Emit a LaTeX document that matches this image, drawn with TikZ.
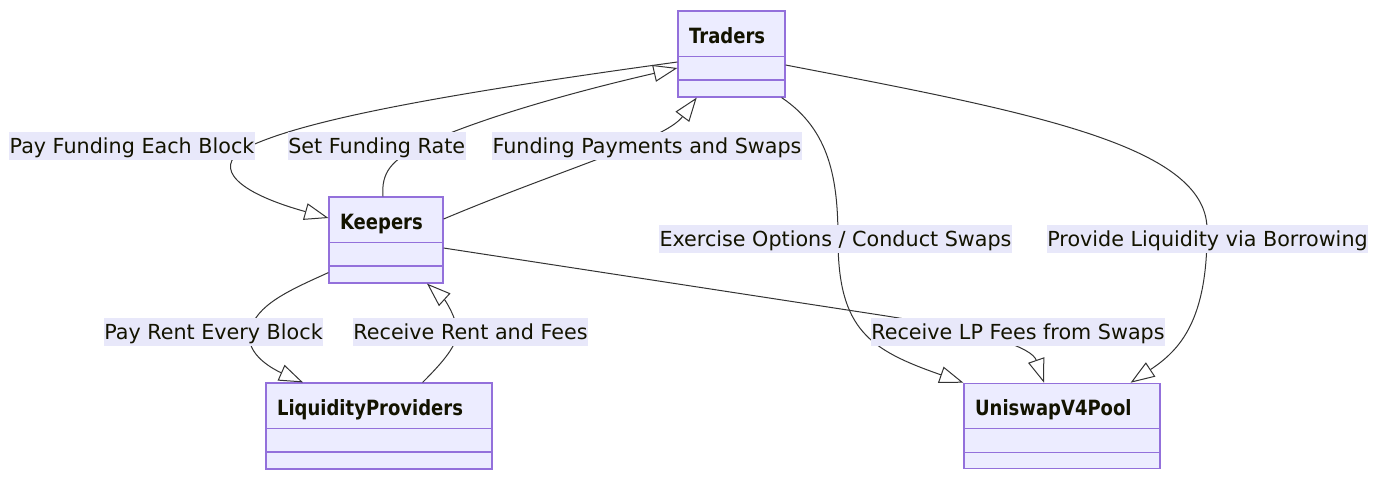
\documentclass[tikz,border=0pt]{standalone}
\usepackage{fontspec}
\setmainfont{DejaVu Sans}
\usetikzlibrary{arrows.meta}
\definecolor{boxfill}{HTML}{ECECFF}
\definecolor{boxdraw}{HTML}{9370DB}
\definecolor{edgecol}{HTML}{333333}
\definecolor{lblbg}{RGB}{232,232,250}
\definecolor{txt}{HTML}{131300}
\newcommand\mytitletext[1]{\scalebox{0.857}[1]{#1}}
\begin{document}
\begin{tikzpicture}[x=1pt,y=-1pt,
 classbox/.style={draw=boxdraw, fill=boxfill, line width=1.2pt, inner sep=0pt, rectangle},
 divider/.style={draw=boxdraw, line width=1.2pt},
 title/.style={anchor=base west, inner sep=0pt, font=\bfseries\fontsize{21}{25}\selectfont, text=txt},
 rel/.style={draw=edgecol, line width=1pt, -{Triangle[length=24pt,width=17pt,fill=white]}},
 elabel/.style={fill=lblbg, inner xsep=0.5pt, inner ysep=0pt, minimum height=27.5pt, text height=15pt, text depth=0.4pt, font=\fontsize{20.7}{24}\selectfont, text=txt}
]
\useasboundingbox[fill=white] (0,0) rectangle (1380,480);

% class boxes
\node[classbox, minimum width=107pt, minimum height=86pt] (Traders) at (731.5,54) {};
\node[classbox, minimum width=114pt, minimum height=86pt] (Keepers) at (386,240) {};
\node[classbox, minimum width=226pt, minimum height=86pt] (LP) at (379,426) {};
\node[classbox, minimum width=196pt, minimum height=85pt] (Pool) at (1062,425.8) {};
\foreach \b in {Traders,Keepers,LP,Pool}{
  \draw[divider] ([yshift=-46pt]\b.north west) -- ([yshift=-46pt]\b.north east);
  \draw[divider] ([yshift=-69.5pt]\b.north west) -- ([yshift=-69.5pt]\b.north east);
}
\node[title] (TradersT) at ([xshift=11.5pt,yshift=-32.7pt]Traders.north west) {\mytitletext{Traders}};
\node[title] (KeepersT) at ([xshift=11.5pt,yshift=-32.7pt]Keepers.north west) {\mytitletext{Keepers}};
\node[title] (LPT) at ([xshift=11.5pt,yshift=-32.7pt]LP.north west) {\mytitletext{LiquidityProviders}};
\node[title] (PoolT) at ([xshift=11.5pt,yshift=-32.7pt]Pool.north west) {\mytitletext{UniswapV4Pool}};

% connectors
\draw[rel] ([yshift=-8pt]Traders.west) .. controls (400,100) and (290,125) .. (242,150)
  .. controls (215,168) and (235,192) .. ([yshift=22pt]Keepers.west);
\draw[rel] ([xshift=-3pt]Keepers.north) .. controls (381,172) and (392,160) .. (420,146)
  .. controls (470,122) and (560,95) .. ([yshift=-14pt]Traders.west);
\draw[rel] ([yshift=21pt]Keepers.east) .. controls (560,170) and (665,140) .. ([xshift=-34.8pt]Traders.south);
\draw[rel] ([xshift=-4pt]Traders.south east) .. controls (830,130) and (838,180) .. (838,239)
  .. controls (838,330) and (870,350) .. (Pool.north west);
\draw[rel] ([yshift=-11pt]Traders.east) .. controls (1030,112) and (1205,145) .. (1207,228)
  .. controls (1208,320) and (1180,350) .. ([xshift=-30pt]Pool.north east);
\draw[rel] ([yshift=-8pt]Keepers.east) -- (880,315) .. controls (990,332) and (1032,348) .. ([xshift=-18pt]Pool.north);
\draw[rel] ([yshift=11pt]Keepers.south west) .. controls (290,290) and (255,305) .. (250,332)
  .. controls (245,355) and (275,370) .. ([xshift=-76pt]LP.north);
\draw[rel] ([xshift=-70pt]LP.north east) .. controls (445,360) and (457,345) .. (457,332)
  .. controls (457,318) and (445,300) .. ([xshift=41pt]Keepers.south);

% edge labels
\node[elabel] (l1) at (132,146) {Pay Funding Each Block};
\node[elabel] (l2) at (376.7,146) {Set Funding Rate};
\node[elabel] (l3) at (647,146) {Funding Payments and Swaps};
\node[elabel] (l4) at (835.5,239) {Exercise Options / Conduct Swaps};
\node[elabel] (l5) at (1207.5,239) {Provide Liquidity via Borrowing};
\node[elabel] (l6) at (213.5,332) {Pay Rent Every Block};
\node[elabel] (l7) at (470.5,332) {Receive Rent and Fees};
\node[elabel] (l8) at (1018,332) {Receive LP Fees from Swaps};
\end{tikzpicture}
\end{document}
